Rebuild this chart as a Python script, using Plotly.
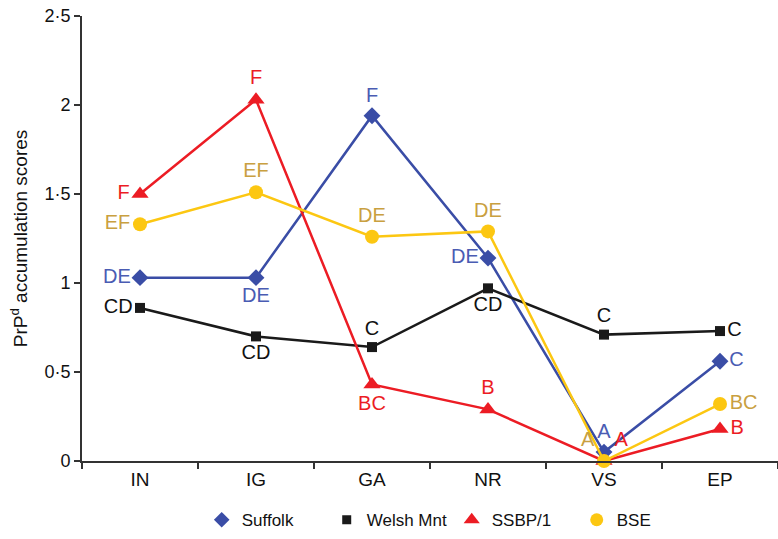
import plotly.graph_objects as go

categories = ["IN", "IG", "GA", "NR", "VS", "EP"]

suffolk = [1.03, 1.03, 1.94, 1.14, 0.05, 0.56]
welsh = [0.86, 0.70, 0.64, 0.97, 0.71, 0.73]
ssbp = [1.50, 2.03, 0.43, 0.29, 0.00, 0.18]
bse = [1.33, 1.51, 1.26, 1.29, 0.00, 0.32]

suffolk_labels = ["DE", "DE", "F", "DE", "A", "C"]
welsh_labels = ["CD", "CD", "C", "CD", "C", "C"]
ssbp_labels = ["F", "F", "BC", "B", "A", "B"]
bse_labels = ["EF", "EF", "DE", "DE", "A", "BC"]

suffolk_pos = ["middle left", "bottom center", "top center", "middle left", "top center", "middle right"]
welsh_pos = ["middle left", "bottom center", "top center", "bottom center", "top center", "middle right"]
ssbp_pos = ["middle left", "top center", "bottom center", "top center", "top right", "middle right"]
bse_pos = ["middle left", "top center", "top center", "top center", "top left", "middle right"]

y_ticks = [0, 0.5, 1, 1.5, 2, 2.5]
y_tick_text = ["0", "0·5", "1", "1·5", "2", "2·5"]

FONT = "Liberation Sans, Arial, Helvetica, sans-serif"

series = [
    dict(name="Suffolk", y=suffolk, text=suffolk_labels, pos=suffolk_pos,
         color="#3a4da6", tcolor="#4a5cb3", symbol="diamond", size=13),
    dict(name="Welsh Mnt", y=welsh, text=welsh_labels, pos=welsh_pos,
         color="#1a1a1a", tcolor="#111111", symbol="square", size=10),
    dict(name="SSBP/1", y=ssbp, text=ssbp_labels, pos=ssbp_pos,
         color="#ec1c24", tcolor="#ec1c24", symbol="triangle-up", size=15),
    dict(name="BSE", y=bse, text=bse_labels, pos=bse_pos,
         color="#fcc712", tcolor="#c9a040", symbol="circle", size=14),
]

fig = go.Figure()
for s in series:
    fig.add_trace(go.Scatter(
        x=categories, y=s["y"], mode="lines+markers+text",
        text=s["text"], textposition=s["pos"],
        textfont=dict(family=FONT, size=20, color=s["tcolor"]),
        line=dict(color=s["color"], width=2.5),
        marker=dict(color=s["color"], symbol=s["symbol"], size=s["size"]),
        showlegend=False, cliponaxis=False, name=s["name"],
    ))
for s in series:
    fig.add_trace(go.Scatter(
        x=[None], y=[None], mode="markers", name=s["name"],
        marker=dict(color=s["color"], symbol=s["symbol"], size=s["size"] - 1),
        showlegend=True,
    ))

fig.update_layout(
    width=778, height=539,
    margin=dict(l=82, r=0, t=16, b=78),
    plot_bgcolor="white", paper_bgcolor="white",
    font=dict(family=FONT, size=19, color="#111111"),
    legend=dict(orientation="h", x=0.172, xanchor="left", y=-0.133, yanchor="middle",
                font=dict(family=FONT, size=17, color="#111111"), itemwidth=30,
                entrywidth=80, tracegroupgap=0, bgcolor="rgba(0,0,0,0)"),
    xaxis=dict(
        type="category", categoryorder="array", categoryarray=categories,
        range=[-0.5, 5.5], showline=True, linecolor="#333333", linewidth=2,
        ticks="outside", tickson="boundaries", ticklen=6, tickcolor="#333333",
        tickwidth=2, showgrid=False, zeroline=False,
        tickfont=dict(family=FONT, size=19, color="#111111"),
    ),
    yaxis=dict(
        range=[0, 2.5], tickvals=y_ticks, ticktext=y_tick_text,
        showline=True, linecolor="#333333", linewidth=2,
        ticks="outside", ticklen=6, tickcolor="#333333", tickwidth=2,
        showgrid=False, zeroline=False,
        tickfont=dict(family=FONT, size=18, color="#111111"),
        title=dict(text="PrP<sup>d</sup> accumulation scores",
                   font=dict(family=FONT, size=19, color="#111111"), standoff=12),
    ),
)

fig.write_html("out.html", config={"displayModeBar": False},
               post_script="document.body.style.margin='0';")
